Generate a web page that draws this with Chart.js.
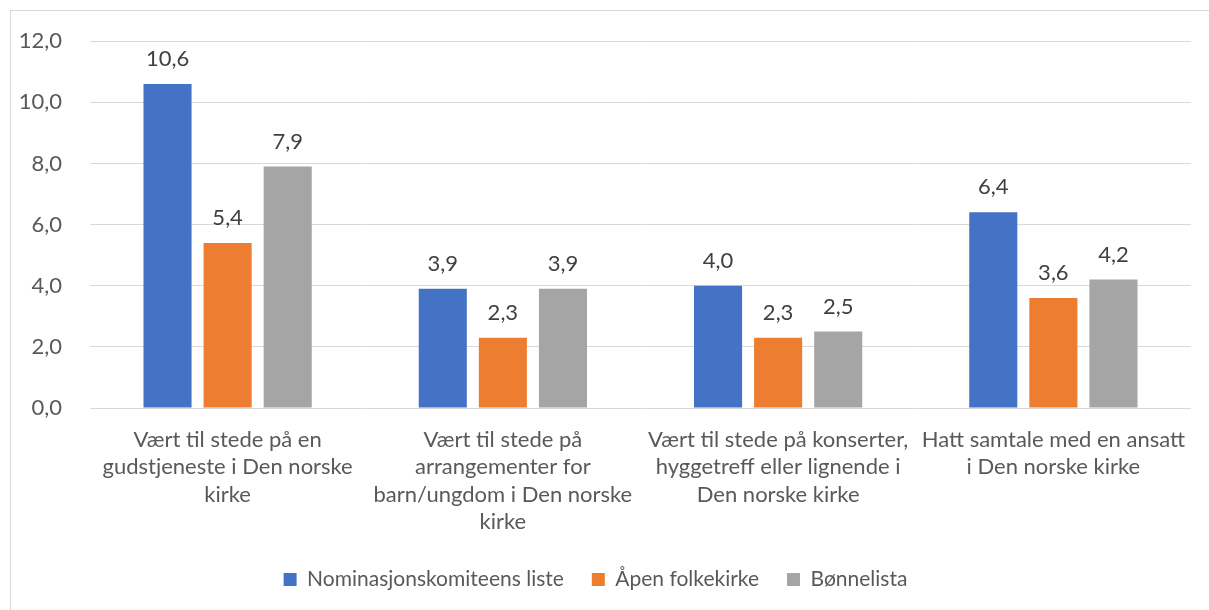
<!DOCTYPE html>
<html><head><meta charset="utf-8">
<script src="https://cdn.jsdelivr.net/npm/chart.js@4"></script>
<style>html,body{margin:0;padding:0;background:#fff;overflow:hidden}#c{display:block}</style>
</head><body>
<canvas id="c" width="1209" height="610"></canvas>
<script>
const categories = [
  ["Vært til stede på en", "gudstjeneste i Den norske", "kirke"],
  ["Vært til stede på", "arrangementer for", "barn/ungdom i Den norske", "kirke"],
  ["Vært til stede på konserter,", "hyggetreff eller lignende i", "Den norske kirke"],
  ["Hatt samtale med en ansatt", "i Den norske kirke"]
];
const seriesNames = ["Nominasjonskomiteens liste", "Åpen folkekirke", "Bønnelista"];
const nominasjon = [10.6, 3.9, 4.0, 6.4];
const apen = [5.4, 2.3, 2.3, 3.6];
const bonnelista = [7.9, 3.9, 2.5, 4.2];
const colors = ["#4472C4", "#ED7D31", "#A5A5A5"];
const yTicks = [0, 2, 4, 6, 8, 10, 12];

const FONT = "Lato, 'Open Sans', sans-serif";
const FS = 22;
const TXT = "#595959";
const fmt = v => v.toFixed(1).replace('.', ',');

const frame = {
  id: 'frame',
  beforeDraw(chart) {
    const c = chart.ctx;
    c.save();
    c.fillStyle = '#fff';
    c.fillRect(0, 0, chart.width, chart.height);
    c.strokeStyle = '#d9d9d9';
    c.lineWidth = 1;
    c.strokeRect(10.5, 10.5, 1220, 700);
    c.restore();
  }
};
const valueLabels = {
  id: 'valueLabels',
  afterDatasetsDraw(chart) {
    const c = chart.ctx;
    c.save();
    c.font = FS + "px " + FONT;
    c.fillStyle = "#404040";
    c.textAlign = 'center';
    c.textBaseline = 'bottom';
    chart.data.datasets.forEach((ds, i) => {
      chart.getDatasetMeta(i).data.forEach((bar, j) => {
        c.fillText(fmt(ds.data[j]), bar.x, bar.y - 14);
      });
    });
    c.restore();
  }
};

new Chart(document.getElementById('c'), {
  type: 'bar',
  data: {
    labels: categories,
    datasets: [
      { label: seriesNames[0], data: nominasjon, backgroundColor: colors[0] },
      { label: seriesNames[1], data: apen, backgroundColor: colors[1] },
      { label: seriesNames[2], data: bonnelista, backgroundColor: colors[2] }
    ]
  },
  options: {
    responsive: false,
    animation: false,
    devicePixelRatio: 1,
    layout: { padding: { left: 0, right: 18, top: 39, bottom: 10 } },
    datasets: { bar: { categoryPercentage: 0.655, barPercentage: 0.8 } },
    scales: {
      x: {
        grid: { display: false },
        border: { display: false },
        ticks: { color: TXT, font: { family: FONT, size: FS, lineHeight: 1.25 }, padding: 10, maxRotation: 0, autoSkip: false },
        afterFit(s) { s.height = 133; }
      },
      y: {
        min: 0, max: 12,
        afterBuildTicks(s) { s.ticks = yTicks.map(v => ({ value: v })); },
        grid: { color: '#d9d9d9', lineWidth: 1, drawTicks: false },
        border: { display: false },
        ticks: { color: TXT, font: { family: FONT, size: FS }, padding: 28, callback: v => fmt(v) },
        afterFit(s) { s.width = 90; }
      }
    },
    plugins: {
      legend: {
        position: 'bottom',
        labels: { color: TXT, font: { family: FONT, size: 21 }, boxWidth: 13, boxHeight: 13, padding: 28 }
      },
      tooltip: { enabled: false }
    }
  },
  plugins: [frame, valueLabels]
});
</script>
</body></html>
